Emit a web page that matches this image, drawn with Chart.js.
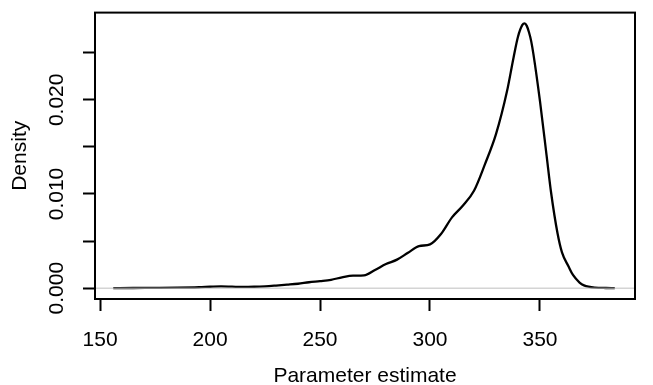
<!DOCTYPE html>
<html>
<head>
<meta charset="utf-8">
<script src="https://cdn.jsdelivr.net/npm/chart.js@4"></script>
<style>
  html, body { margin: 0; padding: 0; background: #fff; }
  #wrap { width: 653px; height: 385px; }
</style>
</head>
<body>
<div id="wrap"><canvas id="densityChart" width="653" height="385"></canvas></div>
<script>
// density estimate
const estimates = [156, 165, 175, 185, 195, 200, 205, 210, 215, 220, 225, 230, 235, 240, 245,
  250, 255, 260, 265, 270, 275, 280, 285, 290, 295, 300, 305, 310, 315, 320, 325, 330, 335,
  338, 340, 342, 343, 344, 345, 346, 347, 350, 353, 355, 358, 360, 363, 365, 368, 370,
  375, 380, 384];
const density = [0.0000, 0.00002, 0.00003, 0.00005, 0.0001, 0.00015, 0.00019, 0.00016, 0.00013,
  0.00015, 0.0002, 0.00028, 0.00037, 0.00047, 0.00063, 0.00075, 0.00089, 0.00115, 0.00133,
  0.00136, 0.00193, 0.00256, 0.00303, 0.00376, 0.00446, 0.00465, 0.00575, 0.00752, 0.00878,
  0.01034, 0.01317, 0.01635, 0.0209, 0.0245, 0.0267, 0.02795, 0.02812, 0.02785,
  0.02717, 0.02623, 0.02487, 0.01985, 0.01411, 0.01024, 0.0058, 0.0038, 0.0023, 0.0014,
  0.0006, 0.0003, 0.00006, 0.00002, 0];

const xTicks = [150, 200, 250, 300, 350];
const yTicks = [0, 0.005, 0.010, 0.015, 0.020, 0.025];
const yTickLabels = ['0.000', '', '0.010', '', '0.020', ''];
const xRange = [147.7, 393.2];
const yRange = [-0.00115, 0.02926];

Chart.defaults.font.family = 'Liberation Sans, Arial, sans-serif';
Chart.defaults.font.size = 21;
Chart.defaults.color = '#000';

const frame = {
  id: 'frame',
  afterDraw(chart) {
    const a = chart.chartArea, ctx = chart.ctx;
    ctx.save();
    ctx.strokeStyle = '#000';
    ctx.lineWidth = 2;
    ctx.strokeRect(a.left, a.top, a.right - a.left, a.bottom - a.top);
    ctx.restore();
  }
};

const ctx = document.getElementById('densityChart').getContext('2d');
new Chart(ctx, {
  type: 'line',
  data: {
    datasets: [
      {
        // abline(h = 0, col = "grey")
        data: xRange.map(x => ({ x: x, y: 0 })),
        borderColor: '#bebebe',
        borderWidth: 1,
        pointRadius: 0
      },
      {
        data: estimates.map((x, i) => ({ x: x, y: density[i] })),
        borderColor: '#000',
        borderWidth: 2.3,
        pointRadius: 0,
        cubicInterpolationMode: 'monotone'
      }
    ]
  },
  options: {
    responsive: false,
    animation: false,
    events: [],
    layout: { padding: { top: 8, right: 18, bottom: 0, left: 0 } },
    plugins: { legend: { display: false }, tooltip: { enabled: false } },
    scales: {
      x: {
        type: 'linear',
        min: xRange[0],
        max: xRange[1],
        afterBuildTicks: s => { s.ticks = xTicks.map(v => ({ value: v })); },
        afterFit: s => { s.height = 86; },
        border: { display: false },
        grid: { drawOnChartArea: false, tickLength: 12, tickWidth: 2, tickColor: '#000' },
        ticks: { padding: 16.6, maxRotation: 0, autoSkip: false },
        title: {
          display: true,
          text: 'Parameter estimate',
          font: { size: 21, lineHeight: 0.84 },
          padding: 0
        }
      },
      y: {
        type: 'linear',
        min: yRange[0],
        max: yRange[1],
        afterBuildTicks: s => { s.ticks = yTicks.map(v => ({ value: v })); },
        afterFit: s => { s.width = 95; },
        border: { display: false },
        grid: { drawOnChartArea: false, tickLength: 12, tickWidth: 2, tickColor: '#000' },
        ticks: {
          padding: 0,
          minRotation: 90,
          maxRotation: 90,
          crossAlign: 'center',
          autoSkip: false,
          callback: (v, i) => yTickLabels[i]
        },
        title: {
          display: true,
          text: 'Density',
          font: { size: 21, lineHeight: 1.2 },
          padding: { top: 7.6, bottom: 0 }
        }
      }
    }
  },
  plugins: [frame]
});
</script>
</body>
</html>
